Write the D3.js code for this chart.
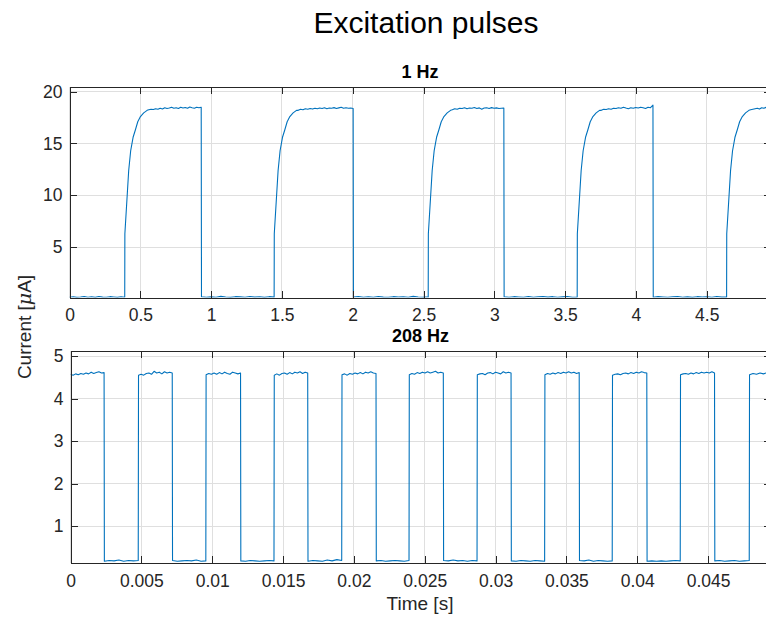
<!DOCTYPE html>
<html>
<head>
<meta charset="utf-8">
<script src="https://cdn.jsdelivr.net/npm/d3@7"></script>
<style>
  body { margin: 0; background: #fff; }
  svg { display: block; font-family: "Liberation Sans", Arial, Helvetica, sans-serif; }
</style>
</head>
<body>
<svg id="chart" width="766" height="619"></svg>
<script>
// ---- 1 Hz panel (seconds, µA) ----
const slowTicksX = [0, 0.5, 1, 1.5, 2, 2.5, 3, 3.5, 4, 4.5];
const slowTicksY = [5, 10, 15, 20];
const slowRise = [0.390, 1.445, 2.533, 3.585, 4.640];
const slowFall = [0.930, 2.003, 3.067, 4.120];
// rising edge: [seconds after edge, µA]
const slowRiseShape = [[0, 0.18], [0.001, 6.3], [0.028, 12.4], [0.042, 14.3], [0.059, 15.6],
  [0.075, 16.3], [0.092, 17.1], [0.111, 17.6], [0.134, 17.95], [0.158, 18.2]];
const slowHigh = [
  [18.25, 18.3, 18.28, 18.35, 18.3, 18.4, 18.33, 18.45, 18.38, 18.42, 18.5, 18.4, 18.45, 18.38, 18.5, 18.42, 18.48, 18.4, 18.52, 18.45, 18.4, 18.5, 18.45, 18.5],
  [18.2, 18.3, 18.25, 18.35, 18.3, 18.38, 18.32, 18.4, 18.35, 18.42, 18.38, 18.45, 18.36, 18.42, 18.4, 18.46, 18.38, 18.44, 18.5, 18.4, 18.45, 18.4, 18.42, 18.38],
  [18.25, 18.35, 18.3, 18.4, 18.38, 18.45, 18.35, 18.42, 18.4, 18.48, 18.38, 18.44, 18.3, 18.42, 18.45, 18.38, 18.46, 18.4, 18.44, 18.38, 18.4, 18.42],
  [18.2, 18.3, 18.28, 18.35, 18.3, 18.4, 18.38, 18.45, 18.4, 18.5, 18.42, 18.35, 18.45, 18.4, 18.48, 18.42, 18.5, 18.45, 18.38, 18.5, 18.45, 18.7],
  [18.25, 18.3, 18.35, 18.4, 18.32, 18.45, 18.4, 18.5, 18.42, 18.48]
];
const slowLow = [
  [0.16, 0.22, 0.15, 0.19, 0.24, 0.17, 0.21, 0.15, 0.23, 0.18, 0.16, 0.22, 0.19, 0.15, 0.21, 0.17],
  [0.22, 0.16, 0.2, 0.17, 0.25, 0.19, 0.15, 0.22, 0.2, 0.16, 0.23, 0.18, 0.21, 0.15, 0.22, 0.18],
  [0.19, 0.23, 0.16, 0.21, 0.17, 0.24, 0.18, 0.16, 0.22, 0.19, 0.21, 0.16, 0.25, 0.19, 0.17, 0.21],
  [0.21, 0.16, 0.22, 0.19, 0.17, 0.23, 0.16, 0.21, 0.24, 0.18, 0.22, 0.16, 0.2, 0.23, 0.17, 0.19],
  [0.17, 0.22, 0.19, 0.16, 0.21, 0.24, 0.17, 0.2, 0.15, 0.22, 0.19, 0.21, 0.16, 0.23, 0.18, 0.2]
];

// ---- 208 Hz panel ----
const fastTicksX = [0, 0.005, 0.01, 0.015, 0.02, 0.025, 0.03, 0.035, 0.04, 0.045];
const fastTicksY = [1, 2, 3, 4, 5];
const fastFall = [0.00237, 0.00718, 0.01200, 0.01674, 0.02156, 0.02631, 0.03109, 0.03590, 0.04067, 0.04545];
const fastRise = [0.00478, 0.00955, 0.01436, 0.01914, 0.02389, 0.02869, 0.03346, 0.03823, 0.04303, 0.04790];
const fastHigh = [
  [4.57, 4.55, 4.58, 4.56, 4.59, 4.57, 4.6, 4.58, 4.62, 4.59, 4.61, 4.63, 4.6, 4.61],
  [4.55, 4.57, 4.55, 4.59, 4.6, 4.57, 4.64, 4.6, 4.62, 4.58, 4.63, 4.6, 4.62, 4.6],
  [4.56, 4.59, 4.57, 4.6, 4.57, 4.61, 4.58, 4.62, 4.59, 4.57, 4.62, 4.6, 4.58, 4.6],
  [4.55, 4.58, 4.55, 4.59, 4.6, 4.57, 4.61, 4.58, 4.62, 4.6, 4.63, 4.59, 4.62, 4.6],
  [4.56, 4.58, 4.55, 4.59, 4.57, 4.6, 4.58, 4.61, 4.58, 4.62, 4.6, 4.63, 4.6, 4.59],
  [4.56, 4.59, 4.57, 4.61, 4.59, 4.62, 4.6, 4.63, 4.6, 4.62, 4.64, 4.6, 4.62, 4.6],
  [4.56, 4.58, 4.59, 4.56, 4.6, 4.61, 4.58, 4.62, 4.6, 4.58, 4.63, 4.6, 4.62, 4.6],
  [4.56, 4.59, 4.57, 4.6, 4.58, 4.61, 4.59, 4.62, 4.6, 4.63, 4.6, 4.62, 4.59, 4.61],
  [4.55, 4.57, 4.58, 4.56, 4.59, 4.6, 4.58, 4.61, 4.59, 4.62, 4.6, 4.63, 4.61, 4.6],
  [4.56, 4.58, 4.59, 4.57, 4.6, 4.58, 4.61, 4.59, 4.62, 4.6, 4.62, 4.6, 4.63, 4.6],
  [4.56, 4.59, 4.57, 4.6, 4.58, 4.61, 4.59]
];
const fastLow = [
  [0.17, 0.19, 0.18, 0.2, 0.17, 0.19, 0.18, 0.19],
  [0.19, 0.17, 0.18, 0.19, 0.18, 0.2, 0.17, 0.18],
  [0.18, 0.17, 0.19, 0.18, 0.17, 0.18, 0.19, 0.18],
  [0.17, 0.19, 0.18, 0.17, 0.2, 0.18, 0.21, 0.19],
  [0.18, 0.19, 0.17, 0.18, 0.19, 0.18, 0.17, 0.19],
  [0.19, 0.18, 0.2, 0.18, 0.19, 0.17, 0.19, 0.18],
  [0.18, 0.17, 0.19, 0.18, 0.17, 0.19, 0.18, 0.17],
  [0.19, 0.18, 0.2, 0.17, 0.19, 0.18, 0.17, 0.18],
  [0.17, 0.18, 0.17, 0.18, 0.17, 0.18, 0.19, 0.18],
  [0.18, 0.19, 0.17, 0.18, 0.19, 0.17, 0.18, 0.19]
];

const lineColor = "#0072bd";
const axisColor = "#262626";
const gridColor = "#dfdfdf";

const svg = d3.select("#chart");

// evenly spread the typed samples of one level across a time span
function addSpan(pts, t0, t1, vals) {
  vals.forEach((v, i) => pts.push([t0 + (t1 - t0) * i / (vals.length - 1), v]));
}

function slowSeries(tEnd) {
  const pts = [];
  addSpan(pts, 0, slowRise[0], slowLow[0]);
  slowRise.forEach((r, i) => {
    slowRiseShape.forEach(([dt, v]) => pts.push([r + dt, v]));
    const fall = i < slowFall.length ? slowFall[i] : tEnd;
    addSpan(pts, r + 0.17, fall, slowHigh[i]);
    if (i < slowFall.length) {
      addSpan(pts, fall + 0.002, slowRise[i + 1], slowLow[i + 1]);
    }
  });
  return pts;
}

function fastSeries(tEnd) {
  const pts = [];
  fastHigh.forEach((vals, i) => {
    const start = i === 0 ? 0 : fastRise[i - 1] + 0.00002;
    const end = i < fastFall.length ? fastFall[i] : tEnd;
    addSpan(pts, start, end, vals);
    if (i < fastFall.length) {
      addSpan(pts, fastFall[i] + 0.00002, fastRise[i], fastLow[i]);
    }
  });
  return pts;
}

function drawPanel(o) {
  const g = svg.append("g");
  const x = d3.scaleLinear().domain(o.xDomain).range([o.left, o.right]);
  const y = d3.scaleLinear().domain(o.yDomain).range([o.bottom, o.top]);

  // grid
  g.append("g").selectAll("line").data(o.xTicks).join("line")
    .attr("x1", d => x(d)).attr("x2", d => x(d))
    .attr("y1", o.top).attr("y2", o.bottom)
    .attr("stroke", gridColor).attr("shape-rendering", "crispEdges");
  g.append("g").selectAll("line").data(o.yTicks).join("line")
    .attr("y1", d => y(d)).attr("y2", d => y(d))
    .attr("x1", o.left).attr("x2", o.right)
    .attr("stroke", gridColor).attr("shape-rendering", "crispEdges");

  // data line
  const clipId = "clip-" + o.name;
  svg.append("clipPath").attr("id", clipId).append("rect")
    .attr("x", o.left).attr("y", o.top)
    .attr("width", o.right - o.left).attr("height", o.bottom - o.top);
  const line = d3.line().x(d => x(d[0])).y(d => y(d[1]));
  g.append("path")
    .datum(o.data)
    .attr("clip-path", `url(#${clipId})`)
    .attr("fill", "none")
    .attr("stroke", lineColor)
    .attr("stroke-width", 1.1)
    .attr("stroke-linejoin", "round")
    .attr("d", line);

  // axes, ticks inward like the original
  const axes = [
    [d3.axisBottom(x).tickValues(o.xTicks).tickFormat(d => String(d)).tickPadding(o.xPad), `translate(0,${o.bottom})`],
    [d3.axisTop(x).tickValues(o.xTicks).tickFormat(""), `translate(0,${o.top})`],
    [d3.axisLeft(y).tickValues(o.yTicks).tickFormat(d => String(d)).tickPadding(7), `translate(${o.left},0)`],
    [d3.axisRight(y).tickValues(o.yTicks).tickFormat(""), `translate(${o.right},0)`]
  ];
  axes.forEach(([ax, tr]) => {
    const a = g.append("g").attr("transform", tr)
      .call(ax.tickSizeInner(-7).tickSizeOuter(0))
      .attr("font-size", 17.5)
      .attr("font-family", null);
    a.select(".domain").attr("stroke", axisColor).attr("shape-rendering", "crispEdges");
    a.selectAll(".tick line").attr("stroke", axisColor).attr("shape-rendering", "crispEdges");
    a.selectAll(".tick text").attr("fill", axisColor);
  });

  // panel title
  g.append("text")
    .attr("x", (o.left + o.right) / 2)
    .attr("y", o.top - 9)
    .attr("text-anchor", "middle")
    .attr("font-size", 18)
    .attr("font-weight", "bold")
    .attr("fill", "#000")
    .text(o.title);
}

const slowEnd = 4.95;
const fastEnd = 0.0494;

drawPanel({
  name: "slow", title: "1 Hz",
  left: 69.5, right: 770.5, top: 86.5, bottom: 297.5,
  xDomain: [0, slowEnd], yDomain: [0.14, 20.5],
  xTicks: slowTicksX, yTicks: slowTicksY, xPad: 11,
  data: slowSeries(slowEnd)
});

drawPanel({
  name: "fast", title: "208 Hz",
  left: 70.5, right: 770.5, top: 350.5, bottom: 562.5,
  xDomain: [0, fastEnd], yDomain: [0.142, 5.13],
  xTicks: fastTicksX, yTicks: fastTicksY, xPad: 12,
  data: fastSeries(fastEnd)
});

// figure title and shared labels
svg.append("text")
  .attr("x", 426).attr("y", 33)
  .attr("text-anchor", "middle")
  .attr("font-size", 30)
  .attr("fill", "#000")
  .text("Excitation pulses");

svg.append("text")
  .attr("x", 420).attr("y", 610)
  .attr("text-anchor", "middle")
  .attr("font-size", 19)
  .attr("fill", axisColor)
  .text("Time [s]");

const ylab = svg.append("text")
  .attr("transform", "translate(31,327) rotate(-90)")
  .attr("text-anchor", "middle")
  .attr("font-size", 19)
  .attr("fill", axisColor);
ylab.append("tspan").text("Current [");
ylab.append("tspan").attr("font-style", "italic").attr("font-family", "DejaVu Serif, serif").text("\u03bc");
ylab.append("tspan").text("A]");
</script>
</body>
</html>
